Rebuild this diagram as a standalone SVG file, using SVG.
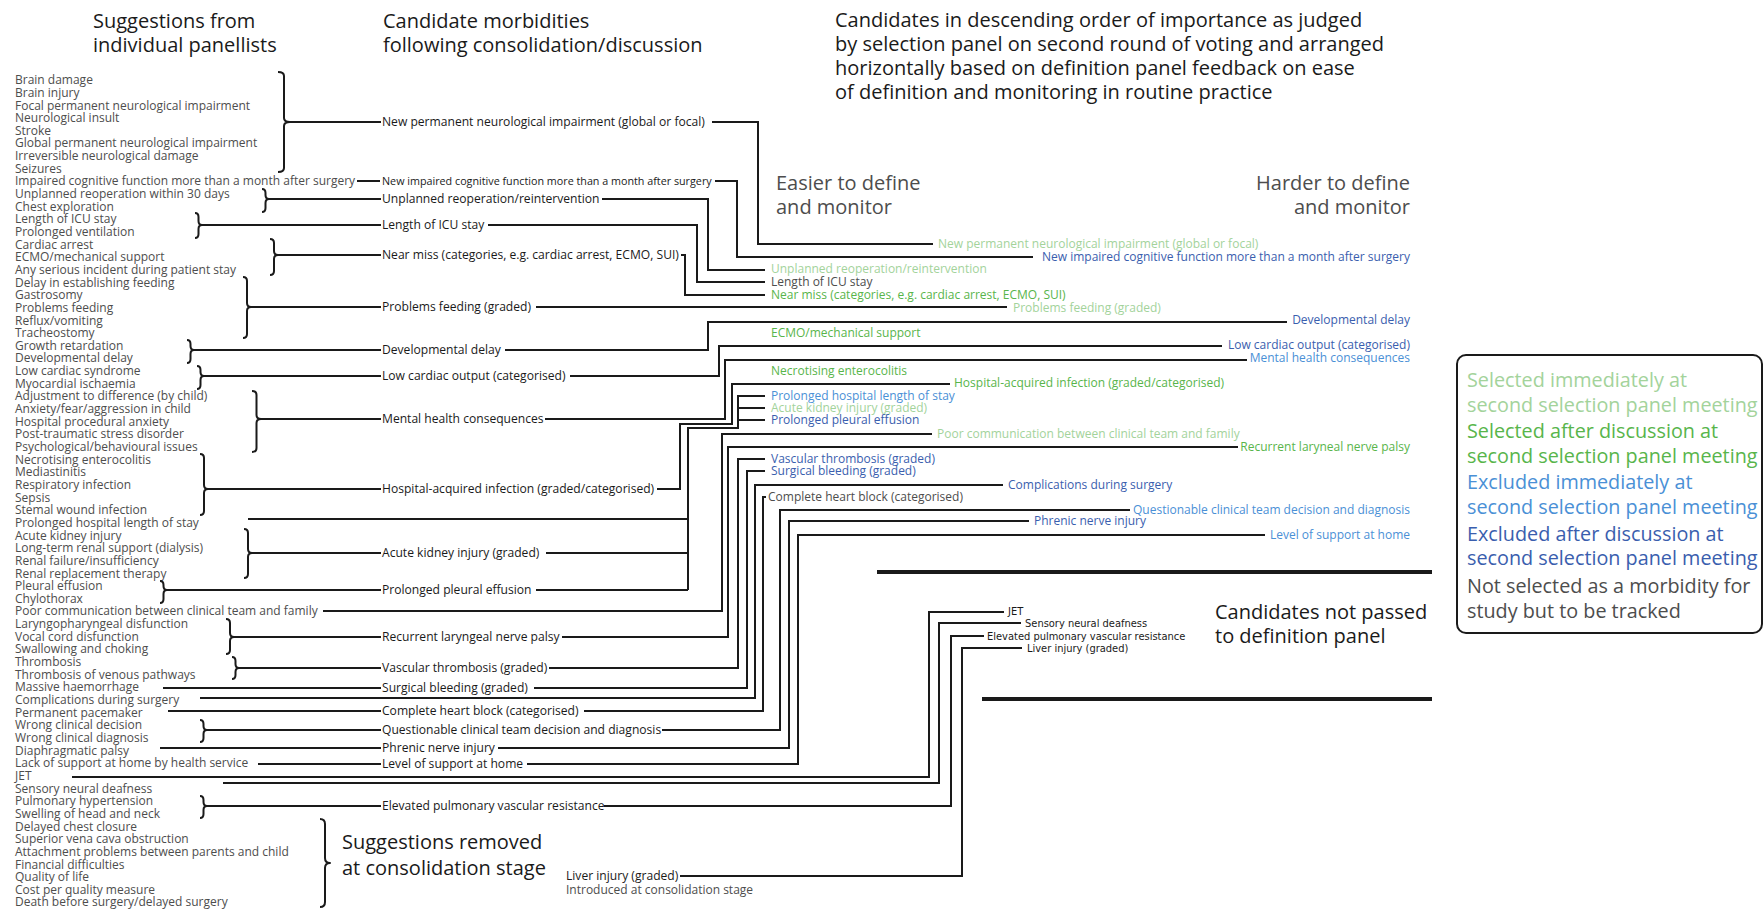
<svg xmlns="http://www.w3.org/2000/svg" width="1764" height="910" viewBox="0 0 1764 910">
<style>
text { font-family: 'Open Sans', 'Noto Sans', 'Liberation Sans', sans-serif; }
.h { font-size: 20px; fill: #1a1a1a; }
.hg { font-size: 20px; fill: #4d4d4d; }
.sug { font-size: 12px; fill: #4d4d4d; }
.mid { font-size: 12.1px; fill: #1a1a1a; }
.lab { font-size: 12px; }
.lg { fill: #a3d39b; }
.gr { fill: #58b54b; }
.lb { fill: #4a90d6; }
.db { fill: #3a5eae; }
.gy { fill: #4d4d4d; }
.leg { font-size: 19.8px; }
.cond { font-family: 'DejaVu Sans Condensed', 'DejaVu Sans', sans-serif; font-stretch: condensed; font-size: 11px; fill: #1a1a1a; }
.ln { fill: none; stroke: #1a1a1a; stroke-width: 2; }
.br { fill: none; stroke: #1a1a1a; stroke-width: 2; stroke-linejoin: round; }
.sep { stroke: #1a1a1a; stroke-width: 4; }
</style>

<!-- column headings -->
<g id="headings">
  <text class="h" x="93" y="28">Suggestions from</text>
  <text class="h" x="93" y="52">individual panellists</text>
  <text class="h" x="383" y="28">Candidate morbidities</text>
  <text class="h" x="383" y="52">following consolidation/discussion</text>
  <text class="h" x="835" y="27">Candidates in descending order of importance as judged</text>
  <text class="h" x="835" y="51">by selection panel on second round of voting and arranged</text>
  <text class="h" x="835" y="75">horizontally based on definition panel feedback on ease</text>
  <text class="h" x="835" y="99">of definition and monitoring in routine practice</text>
  <text class="hg" x="776" y="190">Easier to define</text>
  <text class="hg" x="776" y="214">and monitor</text>
  <text class="hg" x="1410" y="190" text-anchor="end">Harder to define</text>
  <text class="hg" x="1410" y="214" text-anchor="end">and monitor</text>
  <text class="h" x="1215" y="619">Candidates not passed</text>
  <text class="h" x="1215" y="643">to definition panel</text>
  <text class="h" x="342" y="849">Suggestions removed</text>
  <text class="h" x="342" y="875">at consolidation stage</text>
</g>

<!-- individual suggestions -->
<g id="suggestions">
  <text class="sug" x="15" y="84.2">Brain damage<tspan x="15" dy="12.65">Brain injury</tspan><tspan x="15" dy="12.65">Focal permanent neurological impairment</tspan><tspan x="15" dy="12.65">Neurological insult</tspan><tspan x="15" dy="12.65">Stroke</tspan><tspan x="15" dy="12.65">Global permanent neurological impairment</tspan><tspan x="15" dy="12.65">Irreversible neurological damage</tspan><tspan x="15" dy="12.65">Seizures</tspan><tspan x="15" dy="12.65">Impaired cognitive function more than a month after surgery</tspan><tspan x="15" dy="12.65">Unplanned reoperation within 30 days</tspan><tspan x="15" dy="12.65">Chest exploration</tspan><tspan x="15" dy="12.65">Length of ICU stay</tspan><tspan x="15" dy="12.65">Prolonged ventilation</tspan><tspan x="15" dy="12.65">Cardiac arrest</tspan><tspan x="15" dy="12.65">ECMO/mechanical support</tspan><tspan x="15" dy="12.65">Any serious incident during patient stay</tspan><tspan x="15" dy="12.65">Delay in establishing feeding</tspan><tspan x="15" dy="12.65">Gastrosomy</tspan><tspan x="15" dy="12.65">Problems feeding</tspan><tspan x="15" dy="12.65">Reflux/vomiting</tspan><tspan x="15" dy="12.65">Tracheostomy</tspan><tspan x="15" dy="12.65">Growth retardation</tspan><tspan x="15" dy="12.65">Developmental delay</tspan><tspan x="15" dy="12.65">Low cardiac syndrome</tspan><tspan x="15" dy="12.65">Myocardial ischaemia</tspan><tspan x="15" dy="12.65">Adjustment to difference (by child)</tspan><tspan x="15" dy="12.65">Anxiety/fear/aggression in child</tspan><tspan x="15" dy="12.65">Hospital procedural anxiety</tspan><tspan x="15" dy="12.65">Post-traumatic stress disorder</tspan><tspan x="15" dy="12.65">Psychological/behavioural issues</tspan><tspan x="15" dy="12.65">Necrotising enterocolitis</tspan><tspan x="15" dy="12.65">Mediastinitis</tspan><tspan x="15" dy="12.65">Respiratory infection</tspan><tspan x="15" dy="12.65">Sepsis</tspan><tspan x="15" dy="12.65">Stemal wound infection</tspan><tspan x="15" dy="12.65">Prolonged hospital length of stay</tspan><tspan x="15" dy="12.65">Acute kidney injury</tspan><tspan x="15" dy="12.65">Long-term renal support (dialysis)</tspan><tspan x="15" dy="12.65">Renal failure/insufficiency</tspan><tspan x="15" dy="12.65">Renal replacement therapy</tspan><tspan x="15" dy="12.65">Pleural effusion</tspan><tspan x="15" dy="12.65">Chylothorax</tspan><tspan x="15" dy="12.65">Poor communication between clinical team and family</tspan><tspan x="15" dy="12.65">Laryngopharyngeal disfunction</tspan><tspan x="15" dy="12.65">Vocal cord disfunction</tspan><tspan x="15" dy="12.65">Swallowing and choking</tspan><tspan x="15" dy="12.65">Thrombosis</tspan><tspan x="15" dy="12.65">Thrombosis of venous pathways</tspan><tspan x="15" dy="12.65">Massive haemorrhage</tspan><tspan x="15" dy="12.65">Complications during surgery</tspan><tspan x="15" dy="12.65">Permanent pacemaker</tspan><tspan x="15" dy="12.65">Wrong clinical decision</tspan><tspan x="15" dy="12.65">Wrong clinical diagnosis</tspan><tspan x="15" dy="12.65">Diaphragmatic palsy</tspan><tspan x="15" dy="12.65">Lack of support at home by health service</tspan><tspan x="15" dy="12.65">JET</tspan><tspan x="15" dy="12.65">Sensory neural deafness</tspan><tspan x="15" dy="12.65">Pulmonary hypertension</tspan><tspan x="15" dy="12.65">Swelling of head and neck</tspan><tspan x="15" dy="12.65">Delayed chest closure</tspan><tspan x="15" dy="12.65">Superior vena cava obstruction</tspan><tspan x="15" dy="12.65">Attachment problems between parents and child</tspan><tspan x="15" dy="12.65">Financial difficulties</tspan><tspan x="15" dy="12.65">Quality of life</tspan><tspan x="15" dy="12.65">Cost per quality measure</tspan><tspan x="15" dy="12.65">Death before surgery/delayed surgery</tspan></text>
</g>

<!-- grouping braces -->
<g id="braces">
  <path class="br" d="M278,72 Q284,72 284,76 V118 Q284,122 290,122 Q284,122 284,126 V168 Q284,172 278,172"/>
  <path class="br" d="M262,189 Q265.5,189 265.5,193 V195 Q265.5,199 269,199 Q265.5,199 265.5,203 V208 Q265.5,212 262,212"/>
  <path class="br" d="M195,213 Q198.5,213 198.5,217 V221 Q198.5,225 202,225 Q198.5,225 198.5,229 V234 Q198.5,238 195,238"/>
  <path class="br" d="M270,239 Q274,239 274,243 V251 Q274,255 278,255 Q274,255 274,259 V271 Q274,275 270,275"/>
  <path class="br" d="M243,277 Q247,277 247,281 V303 Q247,307 251,307 Q247,307 247,311 V334 Q247,338 243,338"/>
  <path class="br" d="M187,340 Q190.5,340 190.5,344 V346 Q190.5,350 194,350 Q190.5,350 190.5,354 V359 Q190.5,363 187,363"/>
  <path class="br" d="M197,366 Q200.5,366 200.5,370 V372 Q200.5,376 204,376 Q200.5,376 200.5,380 V385 Q200.5,389 197,389"/>
  <path class="br" d="M252,391 Q256.5,391 256.5,395 V415 Q256.5,419 261,419 Q256.5,419 256.5,423 V448 Q256.5,452 252,452"/>
  <path class="br" d="M200,454 Q204,454 204,458 V485 Q204,489 208,489 Q204,489 204,493 V511 Q204,515 200,515"/>
  <path class="br" d="M244,529 Q248,529 248,533 V549 Q248,553 252,553 Q248,553 248,557 V574 Q248,578 244,578"/>
  <path class="br" d="M160,581 Q163.5,581 163.5,585 V586 Q163.5,590 167,590 Q163.5,590 163.5,594 V599 Q163.5,603 160,603"/>
  <path class="br" d="M226,619 Q230,619 230,623 V633 Q230,637 234,637 Q230,637 230,641 V650 Q230,654 226,654"/>
  <path class="br" d="M232,657 Q235.5,657 235.5,661 V664 Q235.5,668 239,668 Q235.5,668 235.5,672 V675 Q235.5,679 232,679"/>
  <path class="br" d="M200,720 Q203.5,720 203.5,724 V726 Q203.5,730 207,730 Q203.5,730 203.5,734 V738 Q203.5,742 200,742"/>
  <path class="br" d="M200,796 Q203.5,796 203.5,800 V802 Q203.5,806 207,806 Q203.5,806 203.5,810 V814 Q203.5,818 200,818"/>
  <path class="br" d="M320,819 Q325,819 325,824 V858 Q325,863 330,863 Q325,863 325,868 V902 Q325,907 320,907"/>
</g>

<!-- consolidated candidate morbidities -->
<g id="cand-neuro"><text class="mid" x="382" y="126">New permanent neurological impairment (global or focal)</text></g>
<g id="cand-cognitive"><text class="mid" x="382" y="185" style="font-size:10.75px">New impaired cognitive function more than a month after surgery</text></g>
<g id="cand-reop"><text class="mid" x="382" y="203">Unplanned reoperation/reintervention</text></g>
<g id="cand-icu"><text class="mid" x="382" y="229">Length of ICU stay</text></g>
<g id="cand-nearmiss"><text class="mid" x="382" y="259">Near miss (categories, e.g. cardiac arrest, ECMO, SUI)</text></g>
<g id="cand-feeding"><text class="mid" x="382" y="311">Problems feeding (graded)</text></g>
<g id="cand-devdelay"><text class="mid" x="382" y="354">Developmental delay</text></g>
<g id="cand-lco"><text class="mid" x="382" y="380">Low cardiac output (categorised)</text></g>
<g id="cand-mental"><text class="mid" x="382" y="423">Mental health consequences</text></g>
<g id="cand-infection"><text class="mid" x="382" y="493">Hospital-acquired infection (graded/categorised)</text></g>
<g id="cand-aki"><text class="mid" x="382" y="557">Acute kidney injury (graded)</text></g>
<g id="cand-pleural"><text class="mid" x="382" y="594">Prolonged pleural effusion</text></g>
<g id="cand-rlnp"><text class="mid" x="382" y="641">Recurrent laryngeal nerve palsy</text></g>
<g id="cand-thrombosis"><text class="mid" x="382" y="672">Vascular thrombosis (graded)</text></g>
<g id="cand-bleeding"><text class="mid" x="382" y="692">Surgical bleeding (graded)</text></g>
<g id="cand-chb"><text class="mid" x="382" y="715">Complete heart block (categorised)</text></g>
<g id="cand-decision"><text class="mid" x="382" y="734">Questionable clinical team decision and diagnosis</text></g>
<g id="cand-phrenic"><text class="mid" x="382" y="752">Phrenic nerve injury</text></g>
<g id="cand-support"><text class="mid" x="382" y="768">Level of support at home</text></g>
<g id="cand-pvr"><text class="mid" x="382" y="810">Elevated pulmonary vascular resistance</text></g>
<g id="cand-liver">
  <text class="mid" x="566" y="880">Liver injury (graded)</text>
  <text class="sug" x="566" y="894">Introduced at consolidation stage</text>
</g>

<!-- ranked candidates -->
<g id="rank-neuro"><text class="lab lg" x="938" y="248">New permanent neurological impairment (global or focal)</text></g>
<g id="rank-cognitive"><text class="lab db" x="1410" y="261" text-anchor="end">New impaired cognitive function more than a month after surgery</text></g>
<g id="rank-reop"><text class="lab lg" x="771" y="273">Unplanned reoperation/reintervention</text></g>
<g id="rank-icu"><text class="lab gy" x="771" y="286">Length of ICU stay</text></g>
<g id="rank-nearmiss"><text class="lab gr" x="771" y="299">Near miss (categories, e.g. cardiac arrest, ECMO, SUI)</text></g>
<g id="rank-feeding"><text class="lab lg" x="1013" y="312">Problems feeding (graded)</text></g>
<g id="rank-devdelay"><text class="lab db" x="1410" y="324" text-anchor="end">Developmental delay</text></g>
<g id="rank-ecmo"><text class="lab gr" x="771" y="337">ECMO/mechanical support</text></g>
<g id="rank-lco"><text class="lab db" x="1410" y="349" text-anchor="end">Low cardiac output (categorised)</text></g>
<g id="rank-mental"><text class="lab lb" x="1410" y="362" text-anchor="end">Mental health consequences</text></g>
<g id="rank-nec"><text class="lab gr" x="771" y="375">Necrotising enterocolitis</text></g>
<g id="rank-infection"><text class="lab gr" x="954" y="387">Hospital-acquired infection (graded/categorised)</text></g>
<g id="rank-los"><text class="lab lb" x="771" y="400">Prolonged hospital length of stay</text></g>
<g id="rank-aki"><text class="lab lg" x="771" y="412">Acute kidney injury (graded)</text></g>
<g id="rank-pleural"><text class="lab db" x="771" y="424">Prolonged pleural effusion</text></g>
<g id="rank-communication"><text class="lab lg" x="937" y="438">Poor communication between clinical team and family</text></g>
<g id="rank-rlnp"><text class="lab gr" x="1410" y="451" text-anchor="end">Recurrent laryneal nerve palsy</text></g>
<g id="rank-thrombosis"><text class="lab db" x="771" y="463">Vascular thrombosis (graded)</text></g>
<g id="rank-bleeding"><text class="lab db" x="771" y="475">Surgical bleeding (graded)</text></g>
<g id="rank-complications"><text class="lab db" x="1008" y="489">Complications during surgery</text></g>
<g id="rank-chb"><text class="lab gy" x="768" y="501">Complete heart block (categorised)</text></g>
<g id="rank-decision"><text class="lab lb" x="1410" y="514" text-anchor="end">Questionable clinical team decision and diagnosis</text></g>
<g id="rank-phrenic"><text class="lab db" x="1034" y="525">Phrenic nerve injury</text></g>
<g id="rank-support"><text class="lab lb" x="1410" y="539" text-anchor="end">Level of support at home</text></g>

<!-- candidates not passed on -->
<g id="np-jet"><text class="cond" x="1008" y="615">JET</text></g>
<g id="np-deafness"><text class="cond" x="1025" y="627">Sensory neural deafness</text></g>
<g id="np-pvr"><text class="cond" x="987" y="640">Elevated pulmonary vascular resistance</text></g>
<g id="np-liver"><text class="cond" x="1027" y="652">Liver injury (graded)</text></g>

<g id="separators">
  <line class="sep" x1="877" y1="572" x2="1432" y2="572"/>
  <line class="sep" x1="982" y1="699" x2="1432" y2="699"/>
</g>

<!-- connectors -->
<g id="connectors">
  <!-- suggestions to candidates -->
  <path class="ln" d="M290,122 H381"/>
  <path class="ln" d="M357,181 H380"/>
  <path class="ln" d="M269,199 H381"/>
  <path class="ln" d="M202,225 H381"/>
  <path class="ln" d="M278,255 H381"/>
  <path class="ln" d="M251,307 H381"/>
  <path class="ln" d="M194,350 H381"/>
  <path class="ln" d="M204,376 H381"/>
  <path class="ln" d="M261,419 H381"/>
  <path class="ln" d="M208,489 H381"/>
  <path class="ln" d="M252,553 H381"/>
  <path class="ln" d="M167,590 H381"/>
  <path class="ln" d="M234,637 H381"/>
  <path class="ln" d="M239,668 H381"/>
  <path class="ln" d="M163,688 H381"/>
  <path class="ln" d="M168,711 H381"/>
  <path class="ln" d="M207,730 H381"/>
  <path class="ln" d="M160,748 H381"/>
  <path class="ln" d="M258,764 H381"/>
  <path class="ln" d="M207,806 H381"/>

  <!-- candidates to ranking -->
  <path class="ln" d="M712,122 H758 V244 H933"/>
  <path class="ln" d="M715,181 H737 V257 H1033"/>
  <path class="ln" d="M602,199 H708 V270 H765"/>
  <path class="ln" d="M488,225 H697 V282 H765"/>
  <path class="ln" d="M681,255 H685 V295 H765"/>
  <path class="ln" d="M536,307 H1007"/>
  <path class="ln" d="M505,350 H708 V322 H1287"/>
  <path class="ln" d="M570,376 H719 V346 H1222"/>
  <path class="ln" d="M545,419 H725 V360 H1247"/>
  <path class="ln" d="M657,489 H680 V424 H732 V384 H950"/>
  <path class="ln" d="M688,590 V428 H738 V396 H765 M738,408 H765 M738,420 H765"/>
  <path class="ln" d="M248,519 H688"/>
  <path class="ln" d="M546,553 H688"/>
  <path class="ln" d="M536,590 H688"/>
  <path class="ln" d="M323,611 H722 V434 H932"/>
  <path class="ln" d="M562,637 H728 V447 H1238"/>
  <path class="ln" d="M549,668 H738 V459 H765"/>
  <path class="ln" d="M534,688 H747 V471 H765"/>
  <path class="ln" d="M200,698 H755 V485 H1003"/>
  <path class="ln" d="M584,711 H763 V497 H766"/>
  <path class="ln" d="M662,730 H780 V510 H1130"/>
  <path class="ln" d="M498,748 H789 V521 H1029"/>
  <path class="ln" d="M527,764 H798 V535 H1265"/>
  <path class="ln" d="M72,777 H929 V612 H1004"/>
  <path class="ln" d="M223,783 H939 V623 H1021"/>
  <path class="ln" d="M604,806 H951 V636 H984"/>
  <path class="ln" d="M680,876 H962 V648 H1022"/>
</g>

<!-- key -->
<g id="legend">
  <rect x="1457" y="355" width="305" height="278" rx="9" fill="#ffffff" stroke="#1a1a1a" stroke-width="2"/>
  <text class="leg lg" x="1467" y="387">Selected immediately at</text>
  <text class="leg lg" x="1467" y="412">second selection panel meeting</text>
  <text class="leg gr" x="1467" y="438">Selected after discussion at</text>
  <text class="leg gr" x="1467" y="463">second selection panel meeting</text>
  <text class="leg lb" x="1467" y="489">Excluded immediately at</text>
  <text class="leg lb" x="1467" y="514">second selection panel meeting</text>
  <text class="leg db" x="1467" y="541">Excluded after discussion at</text>
  <text class="leg db" x="1467" y="565">second selection panel meeting</text>
  <text class="leg gy" x="1467" y="593">Not selected as a morbidity for</text>
  <text class="leg gy" x="1467" y="618">study but to be tracked</text>
</g>
</svg>
